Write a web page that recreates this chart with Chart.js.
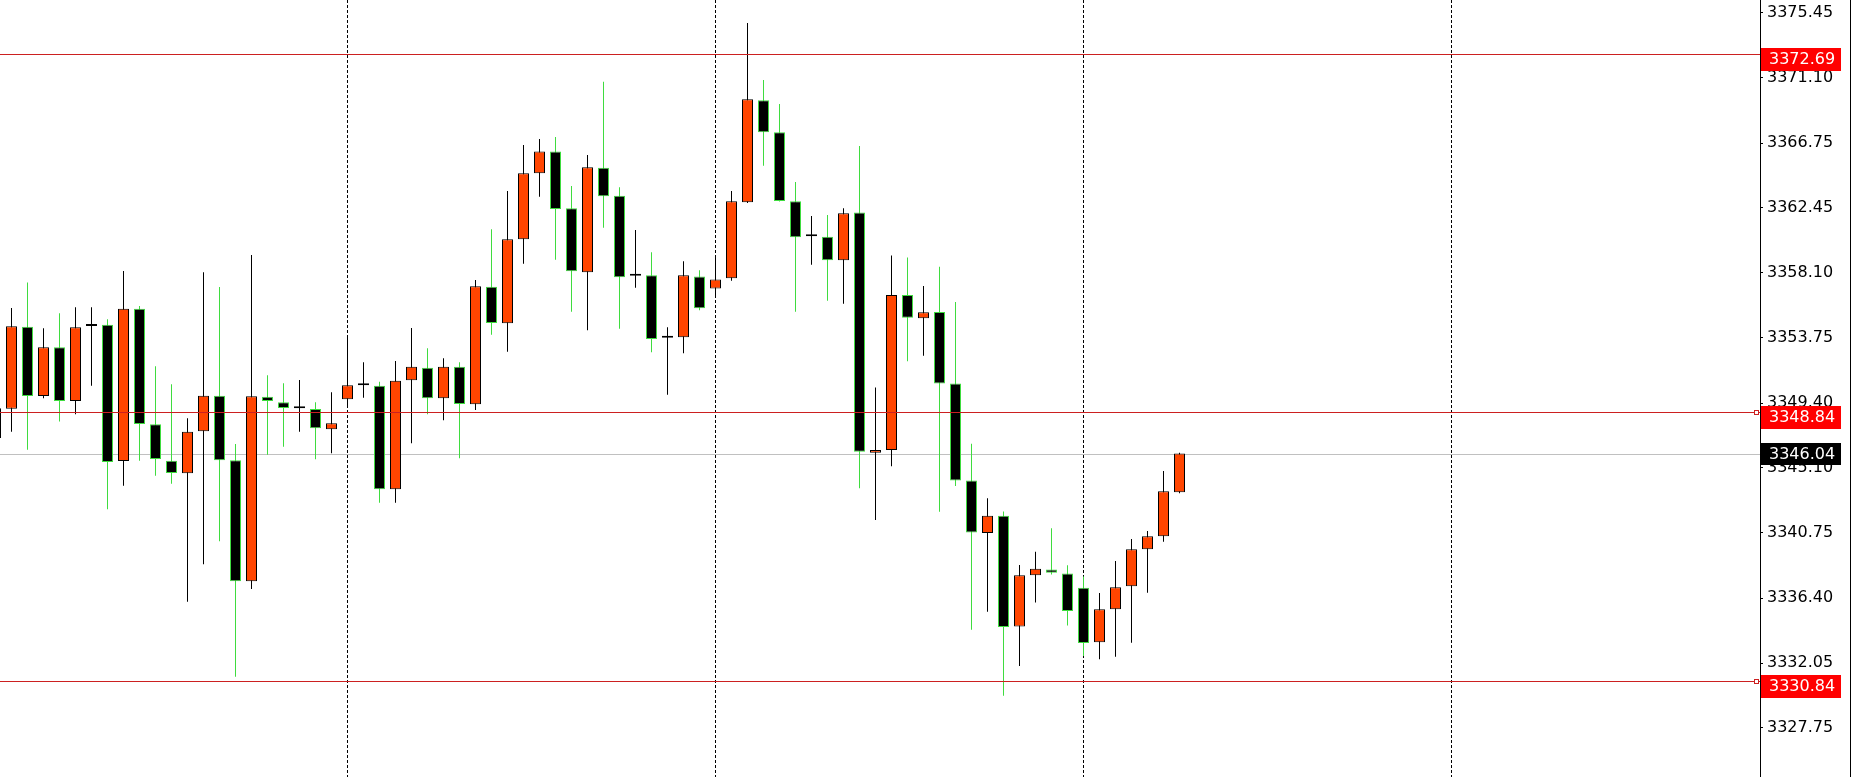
<!DOCTYPE html>
<html>
<head>
<meta charset="utf-8">
<title>XAUUSD candles</title>
<script src="https://cdn.jsdelivr.net/npm/chart.js@4.4.1/dist/chart.umd.min.js"></script>
<style>
    html, body { margin: 0; padding: 0; background: #fff; }
    #wrap { position: absolute; left: 0; top: 0; width: 1850px; height: 777px; border-right: 1px solid #000; }
</style>
</head>
<body>
<div id="wrap"><canvas id="price-chart" width="1850" height="777"></canvas></div>
<script>
// bar numbers (first one is cut by the left edge)
const candleIndex = [-1, 0, 1, 2, 3, 4, 5, 6, 7, 8, 9, 10, 11, 12, 13, 14, 15, 16, 17, 18, 19,
    20, 21, 22, 23, 24, 25, 26, 27, 28, 29, 30, 31, 32, 33, 34, 35, 36, 37, 38, 39,
    40, 41, 42, 43, 44, 45, 46, 47, 48, 49, 50, 51, 52, 53, 54, 55, 56, 57, 58, 59,
    60, 61, 62, 63, 64, 65, 66, 67, 68, 69, 70, 71, 72, 73]

const opens = [3347.08, 3349.03, 3354.50, 3349.88, 3353.13, 3349.55, 3354.55, 3354.64, 3345.54, 3355.70,
    3347.99, 3345.56, 3344.72, 3347.52, 3349.90, 3345.59, 3337.52, 3349.83, 3349.46, 3349.06,
    3349.01, 3347.66, 3349.66, 3350.59, 3350.57, 3343.66, 3350.93, 3351.77, 3349.73, 3351.83,
    3349.33, 3357.17, 3354.73, 3360.33, 3364.74, 3366.20, 3362.40, 3358.13, 3365.11, 3363.24,
    3357.91, 3357.93, 3353.77, 3353.80, 3357.86, 3357.06, 3357.73, 3362.80, 3369.61, 3367.47,
    3362.87, 3360.53, 3360.51, 3358.93, 3362.12, 3346.09, 3346.28, 3356.62, 3355.06, 3355.48,
    3350.71, 3344.24, 3340.74, 3341.89, 3334.50, 3337.92, 3338.31, 3338.03, 3337.09, 3333.45,
    3335.65, 3337.18, 3339.65, 3340.52, 3343.46]
const highs = [3349.50, 3355.75, 3357.46, 3354.40, 3355.40, 3355.80, 3355.80, 3355.00, 3358.22, 3355.88,
    3351.86, 3350.66, 3348.39, 3358.13, 3357.15, 3346.68, 3359.29, 3351.26, 3350.73, 3350.95,
    3349.46, 3350.13, 3353.86, 3352.13, 3350.83, 3352.21, 3354.42, 3353.06, 3352.40, 3352.13,
    3357.62, 3361.00, 3363.56, 3366.62, 3367.02, 3367.16, 3363.89, 3365.96, 3370.85, 3363.80,
    3360.95, 3359.47, 3354.46, 3358.87, 3358.27, 3359.13, 3363.56, 3374.76, 3370.96, 3369.36,
    3364.16, 3361.89, 3361.95, 3362.40, 3366.56, 3350.45, 3359.25, 3359.12, 3357.22, 3358.51,
    3356.15, 3346.70, 3343.06, 3342.17, 3338.61, 3339.48, 3341.06, 3338.59, 3337.83, 3336.74,
    3338.87, 3340.34, 3340.87, 3344.88, 3346.10]
const lows = [3346.70, 3347.50, 3346.30, 3349.73, 3348.17, 3348.66, 3350.57, 3342.32, 3343.90, 3345.56,
    3344.56, 3344.03, 3336.16, 3338.65, 3340.19, 3331.15, 3337.00, 3345.96, 3346.50, 3347.50,
    3345.66, 3346.06, 3349.28, 3349.77, 3342.76, 3342.76, 3346.72, 3348.66, 3348.26, 3345.72,
    3348.95, 3353.97, 3352.84, 3358.71, 3363.18, 3358.97, 3355.50, 3354.26, 3361.11, 3354.37,
    3357.10, 3352.80, 3349.97, 3352.73, 3355.60, 3356.50, 3357.57, 3362.75, 3365.24, 3362.85,
    3355.50, 3358.64, 3356.24, 3356.04, 3343.72, 3341.61, 3345.20, 3352.19, 3352.57, 3342.15,
    3343.88, 3334.29, 3335.49, 3329.88, 3331.87, 3336.10, 3337.97, 3334.56, 3332.53, 3332.31,
    3332.49, 3333.42, 3336.76, 3340.16, 3343.39]
const closes = [3349.06, 3354.53, 3349.88, 3353.13, 3349.55, 3354.46, 3354.55, 3345.48, 3355.70, 3348.01,
    3345.68, 3344.74, 3347.50, 3349.90, 3345.59, 3337.52, 3349.86, 3349.55, 3349.08, 3349.06,
    3347.73, 3348.06, 3350.59, 3350.59, 3343.66, 3350.90, 3351.83, 3349.73, 3351.83, 3349.35,
    3357.20, 3354.75, 3360.33, 3364.74, 3366.20, 3362.35, 3358.20, 3365.14, 3363.20, 3357.80,
    3357.91, 3353.68, 3353.77, 3357.93, 3355.73, 3357.66, 3362.87, 3369.67, 3367.47, 3362.89,
    3360.47, 3360.53, 3358.93, 3362.07, 3346.16, 3346.28, 3356.62, 3355.10, 3355.46, 3350.71,
    3344.24, 3340.77, 3341.89, 3334.46, 3337.92, 3338.35, 3338.09, 3335.54, 3333.40, 3335.65,
    3337.12, 3339.65, 3340.52, 3343.52, 3346.04]

// price scale labels on the right
const yTicks = [3375.45, 3371.10, 3366.75, 3362.45, 3358.10, 3353.75, 3349.40, 3345.10,
    3340.75, 3336.40, 3332.05, 3327.75]
// period separators (bar numbers)
const separators = [21, 44, 67, 90]
// horizontal line objects and the bid price
const redLevels = [3372.69, 3348.84, 3330.84]
const markedLevels = [3348.84, 3330.84]
const bidPrice = 3346.04

const UP_BODY = '#ff4500'
const DOWN_EDGE = '#3fdc3f'

function candleColors() {
    let fill = [], edge = []
    for (let k = 0; k < opens.length; k++) {
        if (closes[k] > opens[k]) {
            fill.push(UP_BODY)
            edge.push('#000')
        } else if (closes[k] < opens[k]) {
            fill.push('#000')
            edge.push(DOWN_EDGE)
        } else {
            fill.push('#000')
            edge.push('#000')
        }
    }
    return {fill, edge}
}

const levelsPlugin = {
    id: 'levels',
    beforeDatasetsDraw(chart) {
        const {ctx, chartArea, scales} = chart
        const y = Math.round(scales.y.getPixelForValue(bidPrice)) + 0.5
        ctx.save()
        ctx.strokeStyle = '#c0c0c0'
        ctx.lineWidth = 1
        ctx.beginPath()
        ctx.moveTo(chartArea.left, y)
        ctx.lineTo(chartArea.right, y)
        ctx.stroke()
        ctx.restore()
    },
    afterDatasetsDraw(chart) {
        const {ctx, chartArea, scales} = chart
        ctx.save()
        ctx.strokeStyle = '#cc2020'
        ctx.lineWidth = 1
        for (let v of redLevels) {
            const y = Math.round(scales.y.getPixelForValue(v)) + 0.5
            ctx.beginPath()
            ctx.moveTo(chartArea.left, y)
            ctx.lineTo(chartArea.right, y)
            ctx.stroke()
        }
        for (let v of markedLevels) {
            const y = Math.round(scales.y.getPixelForValue(v))
            ctx.fillStyle = '#fff'
            ctx.fillRect(chartArea.right - 6, y - 2, 4, 4)
            ctx.strokeRect(chartArea.right - 5.5, y - 1.5, 4, 4)
        }
        ctx.restore()
    },
    afterDraw(chart) {
        const {ctx, chartArea, scales} = chart
        ctx.save()
        ctx.font = '16px "DejaVu Sans"'
        ctx.textBaseline = 'middle'
        ctx.textAlign = 'left'
        const x0 = chartArea.right + 1
        for (let v of redLevels) {
            const y = Math.round(scales.y.getPixelForValue(v))
            ctx.fillStyle = '#ff0000'
            ctx.fillRect(x0, y - 6, 80, 23)
            ctx.fillStyle = '#fff'
            ctx.fillText(v.toFixed(2), x0 + 8, y + 6)
        }
        const yb = Math.round(scales.y.getPixelForValue(bidPrice))
        ctx.fillStyle = '#000'
        ctx.fillRect(x0, yb - 11, 80, 22)
        ctx.fillStyle = '#fff'
        ctx.fillText(bidPrice.toFixed(2), x0 + 8, yb + 1)
        ctx.restore()
    }
}

window.addEventListener('load', function() {
    Chart.defaults.font.family = '"DejaVu Sans", Verdana, sans-serif'
    Chart.defaults.font.size = 16
    Chart.defaults.color = '#000'

    const colors = candleColors()
    const bodies = candleIndex.map((x, k) => ({x: x, y: [opens[k], closes[k]]}))
    const wicks = candleIndex.map((x, k) => ({x: x, y: [lows[k], highs[k]]}))

    const canvas = document.getElementById('price-chart')
    new Chart(canvas, {
        type: 'bar',
        data: {
            datasets: [{
                label: 'body',
                data: bodies,
                backgroundColor: colors.fill,
                borderColor: colors.edge,
                borderWidth: 1,
                borderSkipped: false,
                barThickness: 11,
                minBarLength: 2,
                inflateAmount: 0,
                grouped: false,
                order: 0
            }, {
                label: 'wick',
                data: wicks,
                backgroundColor: colors.edge,
                borderWidth: 0,
                barThickness: 1,
                inflateAmount: 0,
                grouped: false,
                order: 1
            }]
        },
        options: {
            responsive: false,
            animation: false,
            devicePixelRatio: 1,
            layout: { padding: 0 },
            plugins: {
                legend: { display: false },
                tooltip: { enabled: false }
            },
            scales: {
                x: {
                    type: 'linear',
                    offset: false,
                    min: -0.71875,
                    max: 109.28125,
                    afterBuildTicks: s => { s.ticks = separators.map(v => ({value: v})) },
                    afterFit: s => { s.height = 0; s.paddingLeft = 0; s.paddingRight = 0 },
                    ticks: { display: false },
                    grid: { offset: false, drawTicks: false, color: '#000', lineWidth: 1 },
                    border: { display: false, dash: [3, 2] }
                },
                y: {
                    position: 'right',
                    min: 3324.46,
                    max: 3376.30,
                    afterBuildTicks: s => { s.ticks = yTicks.map(v => ({value: v})) },
                    afterFit: s => { s.width = 90; s.paddingTop = 0; s.paddingBottom = 0 },
                    ticks: {
                        autoSkip: false,
                        padding: 4,
                        crossAlign: 'near',
                        callback: v => v.toFixed(2)
                    },
                    grid: { drawOnChartArea: false, drawTicks: true, tickLength: 3, color: '#000' },
                    border: { display: true, color: '#000', width: 1 }
                }
            }
        },
        plugins: [levelsPlugin]
    })
})
</script>
</body>
</html>
